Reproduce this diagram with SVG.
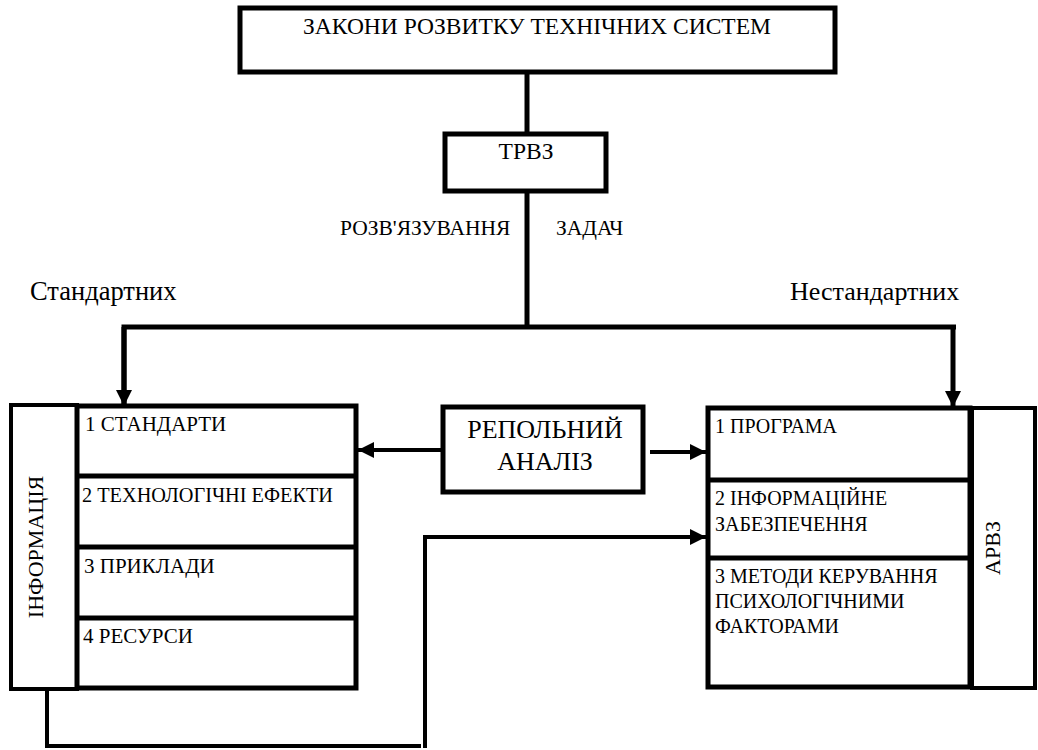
<svg xmlns="http://www.w3.org/2000/svg" width="1038" height="750" viewBox="0 0 1038 750">
<style>
  text { font-family: "Liberation Serif", "Times New Roman", serif; fill: #000; }
  .box { fill: #fff; stroke: #000; stroke-width: 5; }
  .thin { fill: #fff; stroke: #000; stroke-width: 4; }
  .div { stroke: #000; stroke-width: 5; }
  .conn { fill: none; stroke: #000; stroke-width: 5; }
  .conn4 { fill: none; stroke: #000; stroke-width: 4; }
  .mid { text-anchor: middle; }
  .row { font-size: 21px; }
  .rrow { font-size: 20px; }
</style>
<defs>
  <marker id="ah" markerUnits="userSpaceOnUse" markerWidth="16" markerHeight="16" viewBox="0 0 16 16" refX="16" refY="8" orient="auto">
    <path d="M0,0 L16,8 L0,16 Z" fill="#000"/>
  </marker>
</defs>
<rect width="1038" height="750" fill="#fff"/>

<g id="connectors">
  <line class="conn" x1="527" y1="72" x2="527" y2="136"/>
  <line class="conn" x1="527" y1="191" x2="527" y2="327"/>
  <polyline class="conn" points="124,407 124,327 956,327"/>
  <line class="conn" x1="124" y1="327" x2="124" y2="406" marker-end="url(#ah)"/>
  <line class="conn" x1="953" y1="327" x2="953" y2="407" marker-end="url(#ah)"/>
  <line class="conn4" x1="443" y1="450" x2="358" y2="450" marker-end="url(#ah)"/>
  <line class="conn4" x1="650" y1="452" x2="706" y2="452" marker-end="url(#ah)"/>
  <polyline class="conn4" points="47,690 47,746 421,746"/>
  <polyline class="conn4" points="425,748 425,537 706,537" marker-end="url(#ah)"/>
</g>

<g id="laws">
  <rect class="box" x="240" y="8" width="595" height="64"/>
  <text class="mid" font-size="23.5" x="537" y="34">ЗАКОНИ РОЗВИТКУ ТЕХНІЧНИХ СИСТЕМ</text>
</g>

<g id="trvz">
  <rect class="box" x="445" y="134" width="161" height="57"/>
  <text class="mid" font-size="23.5" x="526" y="159">ТРВЗ</text>
</g>

<g id="labels">
  <text font-size="21.5" x="340" y="235">РОЗВ'ЯЗУВАННЯ</text>
  <text font-size="21.5" x="556" y="235">ЗАДАЧ</text>
  <text font-size="26.5" x="30" y="300">Стандартних</text>
  <text font-size="26" x="790" y="300">Нестандартних</text>
</g>

<g id="info">
  <rect class="thin" x="11" y="405" width="66" height="284"/>
  <text class="mid" font-size="22" transform="translate(43,547) rotate(-90)">ІНФОРМАЦІЯ</text>
</g>

<g id="standard-rows">
  <rect class="box" x="77" y="406" width="279" height="282"/>
  <line class="div" x1="77" y1="476" x2="356" y2="476"/>
  <line class="div" x1="77" y1="547" x2="356" y2="547"/>
  <line class="div" x1="77" y1="618" x2="356" y2="618"/>
  <text class="row" x="85" y="431">1 СТАНДАРТИ</text>
  <text class="row" x="82" y="502" textLength="251" lengthAdjust="spacingAndGlyphs">2 ТЕХНОЛОГІЧНІ ЕФЕКТИ</text>
  <text class="row" x="84" y="573">3 ПРИКЛАДИ</text>
  <text class="row" x="83" y="643">4 РЕСУРСИ</text>
</g>

<g id="repol">
  <rect class="box" x="443" y="407" width="200" height="85"/>
  <text class="mid" font-size="26" x="545" y="438">РЕПОЛЬНИЙ</text>
  <text class="mid" font-size="26" x="545" y="470">АНАЛІЗ</text>
</g>

<g id="nonstandard-rows">
  <rect class="box" x="708" y="408" width="262" height="279"/>
  <line class="div" x1="708" y1="480" x2="970" y2="480"/>
  <line class="div" x1="708" y1="558" x2="970" y2="558"/>
  <text class="rrow" x="715" y="433">1 ПРОГРАМА</text>
  <text class="rrow" x="715" y="505">2 ІНФОРМАЦІЙНЕ</text>
  <text class="rrow" x="715" y="531">ЗАБЕЗПЕЧЕННЯ</text>
  <text class="rrow" x="715" y="583">3 МЕТОДИ КЕРУВАННЯ</text>
  <text class="rrow" x="715" y="608">ПСИХОЛОГІЧНИМИ</text>
  <text class="rrow" x="715" y="633">ФАКТОРАМИ</text>
</g>

<g id="arvz">
  <rect class="thin" x="972" y="408" width="63" height="280"/>
  <text class="mid" font-size="22" transform="translate(1000,548) rotate(-90)">АРВЗ</text>
</g>
</svg>
